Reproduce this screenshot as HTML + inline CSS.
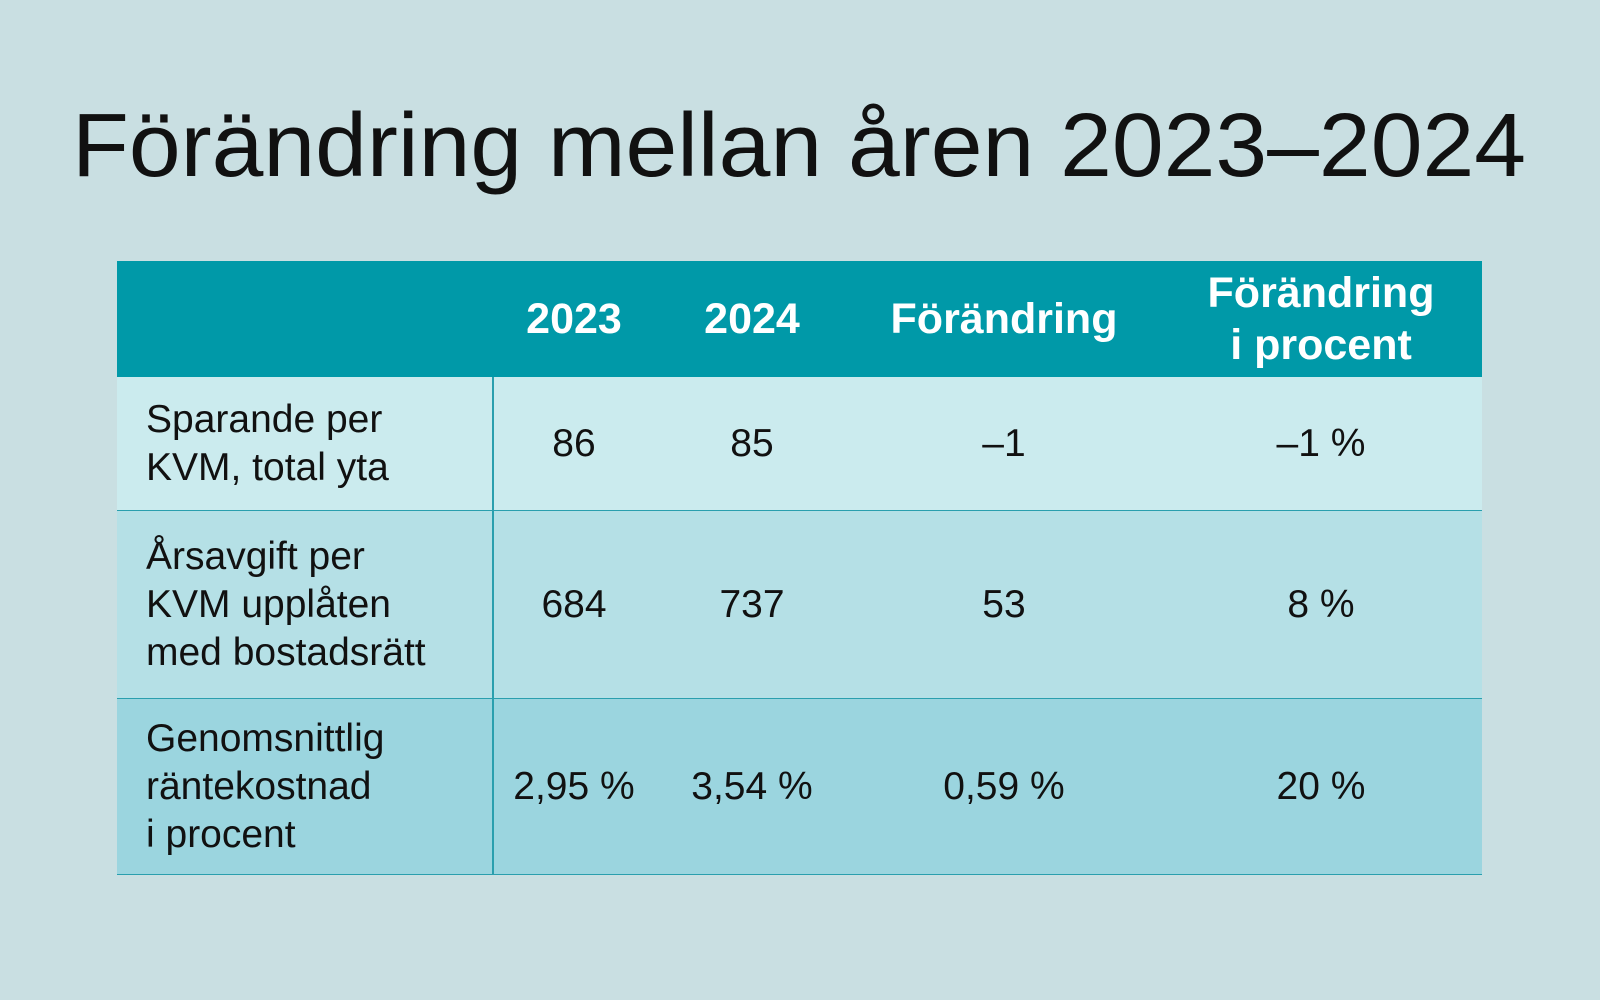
<!DOCTYPE html>
<html><head><meta charset="utf-8"><style>
body{margin:0;width:1600px;height:1000px;background:#c9dfe2;font-family:"Liberation Sans",sans-serif;overflow:hidden;position:relative}
.abs{position:absolute}
.cell{position:absolute;display:flex;align-items:center;justify-content:center;text-align:center;font-size:39px;color:#111;line-height:48px}
.lab{position:absolute;left:146px;display:flex;align-items:center;font-size:39px;color:#111;line-height:48px}
.hd{color:#fff;font-weight:bold;font-size:43px;line-height:52px}
</style></head><body>
<svg class="abs" style="left:0;top:0" width="1600" height="230">
<text x="72" y="176" font-size="90" font-family="Liberation Sans, sans-serif" fill="#111" textLength="1454" lengthAdjust="spacingAndGlyphs">Förändring mellan åren 2023–2024</text>
</svg>
<div>
<div class="abs" style="left:117px;top:261px;width:1365px;height:116px;background:#0099a8"></div>
<div class="abs" style="left:117px;top:377px;width:1365px;height:134px;background:#cbebee;border-bottom:1.5px solid #2a9fae;box-sizing:border-box"></div>
<div class="abs" style="left:117px;top:511px;width:1365px;height:188px;background:#b5e0e6;border-bottom:1.5px solid #2a9fae;box-sizing:border-box"></div>
<div class="abs" style="left:117px;top:699px;width:1365px;height:176px;background:#9bd5df;border-bottom:1.5px solid #2a9fae;box-sizing:border-box"></div>
<div class="abs" style="left:492px;top:377px;width:1.5px;height:498px;background:#2a9fae"></div>

<div class="cell hd" style="left:494px;top:261px;width:160px;height:116px">2023</div>
<div class="cell hd" style="left:672px;top:261px;width:160px;height:116px">2024</div>
<div class="cell hd" style="left:854px;top:261px;width:300px;height:116px">Förändring</div>
<div class="cell hd" style="left:1171px;top:261px;width:300px;height:116px">Förändring<br>i procent</div>

<div class="lab" style="top:377px;height:134px">Sparande per<br>KVM, total yta</div>
<div class="cell" style="left:494px;top:377px;width:160px;height:134px">86</div>
<div class="cell" style="left:672px;top:377px;width:160px;height:134px">85</div>
<div class="cell" style="left:854px;top:377px;width:300px;height:134px">–1</div>
<div class="cell" style="left:1171px;top:377px;width:300px;height:134px">–1 %</div>

<div class="lab" style="top:511px;height:188px">Årsavgift per<br>KVM upplåten<br>med bostadsrätt</div>
<div class="cell" style="left:494px;top:511px;width:160px;height:188px">684</div>
<div class="cell" style="left:672px;top:511px;width:160px;height:188px">737</div>
<div class="cell" style="left:854px;top:511px;width:300px;height:188px">53</div>
<div class="cell" style="left:1171px;top:511px;width:300px;height:188px">8 %</div>

<div class="lab" style="top:699px;height:176px">Genomsnittlig<br>räntekostnad<br>i procent</div>
<div class="cell" style="left:494px;top:699px;width:160px;height:176px">2,95 %</div>
<div class="cell" style="left:672px;top:699px;width:160px;height:176px">3,54 %</div>
<div class="cell" style="left:854px;top:699px;width:300px;height:176px">0,59 %</div>
<div class="cell" style="left:1171px;top:699px;width:300px;height:176px">20 %</div>
</div>
</body></html>
